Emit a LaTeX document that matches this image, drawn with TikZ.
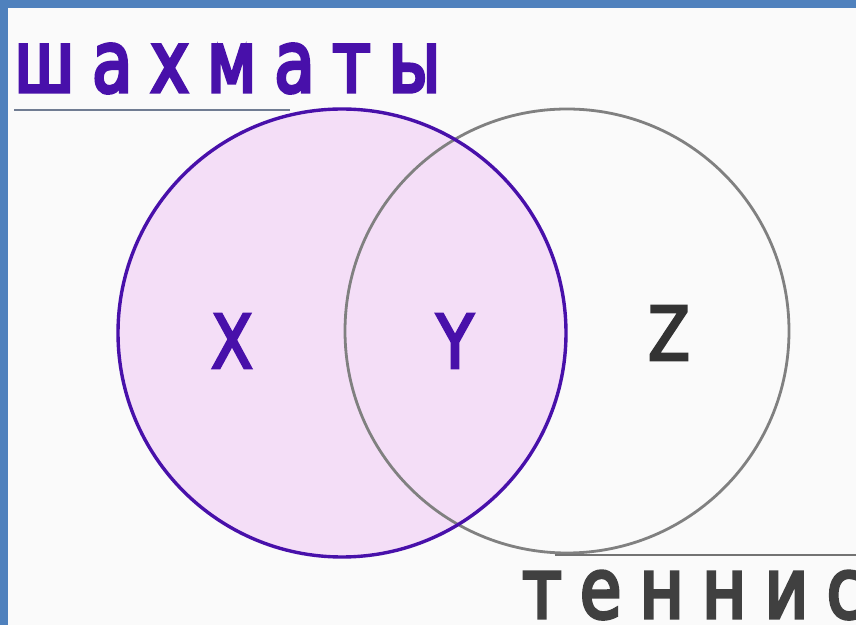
\documentclass[tikz,border=0pt]{standalone}
\usepackage{fontspec}
\setmainfont{DejaVu Sans}
\newfontfamily\setfont[FakeStretch=0.82,FakeBold=3.5]{DejaVu Sans}
\newfontfamily\chessfont[FakeStretch=0.76,FakeBold=4,LetterSpace=21]{DejaVu Sans}
\newfontfamily\tennisfont[FakeStretch=0.8,FakeBold=4,LetterSpace=22]{DejaVu Sans}

\definecolor{frameblue}{RGB}{79,129,189}
\definecolor{chessviolet}{RGB}{72,16,170}
\definecolor{chessfill}{RGB}{244,222,247}
\definecolor{tennisgray}{RGB}{128,128,128}
\definecolor{rulegray}{RGB}{112,124,146}

\tikzset{
    setlabel/.style={inner sep=0pt, font=\setfont\fontsize{37}{40}\selectfont},
    wordlabel/.style={inner sep=0pt, anchor=base west}
}

\begin{document}
\begin{tikzpicture}[x=0.5pt, y=-0.5pt]

    % Define the two set centres and the radius
    \pgfmathsetmacro{\xC}{342}
    \pgfmathsetmacro{\yC}{333}
    \pgfmathsetmacro{\xT}{567}
    \pgfmathsetmacro{\yT}{331}
    \pgfmathsetmacro{\r}{224}

    % Background and frame
    \fill[white!98!black] (0,0) rectangle (856,625);
    \useasboundingbox (0,0) rectangle (856,625);
    \fill[frameblue] (0,0) rectangle (8,625);
    \fill[frameblue] (0,0) rectangle (856,8);

    % Fill the chess set
    \fill[chessfill] (\xC,\yC) circle[radius=\r];

    % Draw the tennis set outline
    \draw[tennisgray, line width=1.4pt] (\xT,\yT) circle[radius=222];

    % Draw the chess set outline
    \draw[chessviolet, line width=1.7pt] (\xC,\yC) circle[radius=\r];

    % Label the regions
    \node[setlabel, text=chessviolet] (x) at (232,341) {X};
    \node[setlabel, text=chessviolet] (y) at (455,341) {Y};
    \node[setlabel, text=black!80] (z) at (669,333) {Z};

    % Names of the sets with their rules
    \node[wordlabel, text=chessviolet, font=\chessfont\fontsize{43}{46}\selectfont] (chess) at (14,92) {шахматы};
    \node[wordlabel, text=black!75, font=\tennisfont\fontsize{42}{45}\selectfont] (tennis) at (522,618) {теннис};
    \coordinate (chessend) at (290,110);
    \coordinate (tennisstart) at (555,555);
    \draw[rulegray, line width=1pt] (chess.west |- chessend) -- (chessend);
    \draw[black!55, line width=1pt] (tennisstart) -- (856,555);

\end{tikzpicture}
\end{document}
